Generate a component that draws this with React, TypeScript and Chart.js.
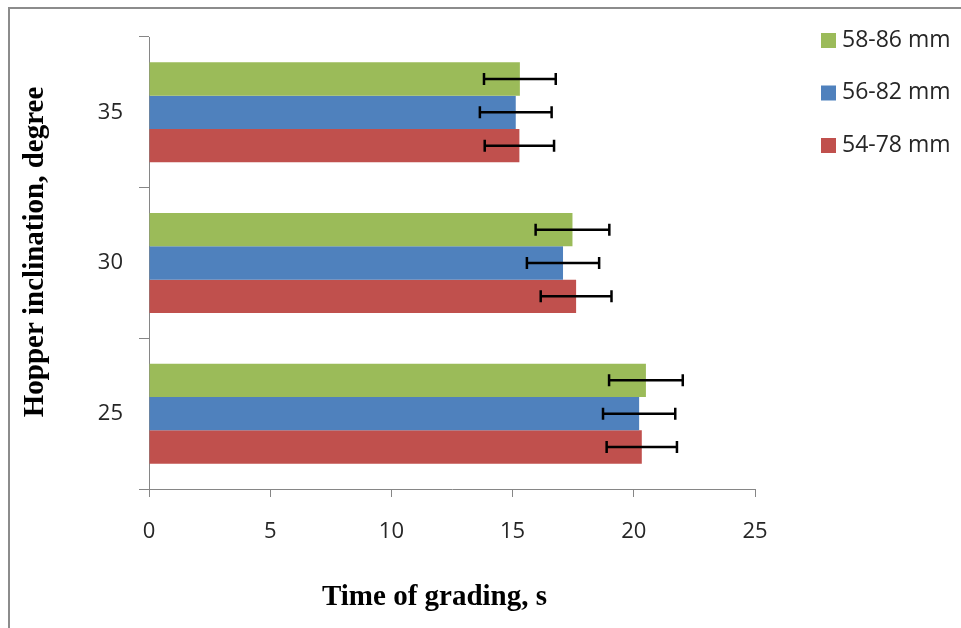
import React, { useEffect, useRef } from 'react';
import { Chart, registerables } from 'chart.js';

Chart.register(...registerables);

// Categories listed top-to-bottom as drawn
const categories = ['35', '30', '25'];
const seriesNames = ['58-86 mm', '56-82 mm', '54-78 mm'];
const values58 = [15.3, 17.47, 20.5];
const values56 = [15.13, 17.08, 20.22];
const values54 = [15.28, 17.62, 20.33];
const err58 = [1.48, 1.52, 1.52];
const err56 = [1.48, 1.49, 1.49];
const err54 = [1.43, 1.46, 1.45];
const xTicks = [0, 5, 10, 15, 20, 25];
const colors = ['#9BBB59', '#4F81BD', '#C0504D'];
const xTitle = 'Time of grading, s';
const yTitle = 'Hopper inclination, degree';

const W = 961;
const H = 628;
const AXIS = '#868686';
const TEXT = '#262626';
const SANS = '"Open Sans", "Noto Sans", sans-serif';
const SERIF = '"Liberation Serif", "Times New Roman", serif';

const framePlugin = {
  id: 'frame',
  beforeDraw(chart: any) {
    const ctx = chart.ctx;
    ctx.save();
    ctx.fillStyle = '#ffffff';
    ctx.fillRect(0, 0, W, H);
    ctx.strokeStyle = '#8c8c8c';
    ctx.lineWidth = 2;
    ctx.beginPath();
    ctx.moveTo(8, 8);
    ctx.lineTo(W, 8);
    ctx.moveTo(9, 7);
    ctx.lineTo(9, H);
    ctx.stroke();
    ctx.restore();
  },
};

const errorBarPlugin = {
  id: 'errorBars',
  afterDatasetsDraw(chart: any) {
    const ctx = chart.ctx;
    const xs = chart.scales.x;
    ctx.save();
    ctx.strokeStyle = '#000000';
    ctx.lineWidth = 2.5;
    chart.data.datasets.forEach((ds: any, i: number) => {
      const meta = chart.getDatasetMeta(i);
      meta.data.forEach((bar: any, j: number) => {
        const v = ds.data[j];
        const e = ds.errors[j];
        const y = bar.y;
        const x1 = xs.getPixelForValue(v - e);
        const x2 = xs.getPixelForValue(v + e);
        ctx.beginPath();
        ctx.moveTo(x1, y);
        ctx.lineTo(x2, y);
        ctx.moveTo(x1, y - 6);
        ctx.lineTo(x1, y + 6);
        ctx.moveTo(x2, y - 6);
        ctx.lineTo(x2, y + 6);
        ctx.stroke();
      });
    });
    ctx.restore();
  },
};

const legendTitlePlugin = {
  id: 'legendTitles',
  afterDraw(chart: any) {
    const ctx = chart.ctx;
    ctx.save();
    // legend
    chart.data.datasets.forEach((ds: any, i: number) => {
      const ty = 40 + i * 52.5;
      ctx.fillStyle = ds.backgroundColor;
      ctx.fillRect(821, ty - 7, 15, 15);
      ctx.fillStyle = TEXT;
      ctx.font = `23px ${SANS}`;
      ctx.textBaseline = 'middle';
      ctx.textAlign = 'left';
      ctx.fillText(ds.label, 842, ty);
    });
    // titles
    ctx.fillStyle = '#000000';
    ctx.font = `bold 29px ${SERIF}`;
    ctx.textAlign = 'center';
    ctx.textBaseline = 'middle';
    ctx.fillText(xTitle, 434.5, 598);
    ctx.translate(36, 252);
    ctx.rotate(-Math.PI / 2);
    ctx.fillText(yTitle, 0, 0);
    ctx.restore();
  },
};

export default function App() {
  const ref = useRef<HTMLCanvasElement | null>(null);

  useEffect(() => {
    if (!ref.current) return;
    const seriesValues = [values58, values56, values54];
    const seriesErrors = [err58, err56, err54];
    const chart = new Chart(ref.current, {
      type: 'bar',
      data: {
        labels: categories,
        datasets: seriesNames.map((name, i) => ({
          label: name,
          data: seriesValues[i],
          errors: seriesErrors[i],
          backgroundColor: colors[i],
          borderWidth: 0,
          barPercentage: 1.0,
          categoryPercentage: 0.664,
        })) as any,
      },
      options: {
        indexAxis: 'y',
        animation: false,
        responsive: false,
        devicePixelRatio: 1,
        layout: { padding: { left: 0, top: 37, right: 206, bottom: 0 } },
        plugins: {
          legend: { display: false },
          tooltip: { enabled: false },
          title: { display: false },
        },
        scales: {
          x: {
            type: 'linear',
            position: 'bottom',
            min: xTicks[0],
            max: xTicks[xTicks.length - 1],
            afterBuildTicks: (s: any) => {
              s.ticks = xTicks.map((v) => ({ value: v }));
            },
            afterFit: (s: any) => {
              s.height = 139;
            },
            grid: { drawOnChartArea: false, drawTicks: true, tickLength: 8, color: AXIS, lineWidth: 1 },
            border: { color: AXIS, width: 1 },
            ticks: { padding: 22, color: TEXT, font: { family: SANS, size: 22 } },
          },
          y: {
            type: 'category',
            position: 'left',
            offset: true,
            afterFit: (s: any) => {
              s.width = 149;
            },
            grid: { offset: true, drawOnChartArea: false, drawTicks: true, tickLength: 10, color: AXIS, lineWidth: 1 },
            border: { color: AXIS, width: 1 },
            ticks: { padding: 16, color: TEXT, font: { family: SANS, size: 22 } },
          },
        },
      } as any,
      plugins: [framePlugin, errorBarPlugin, legendTitlePlugin],
    });
    return () => chart.destroy();
  }, []);

  return (
    <div style={{ position: 'absolute', left: 0, top: 0, width: W, height: H }}>
      <canvas ref={ref} width={W} height={H} style={{ display: 'block', width: W, height: H }} />
    </div>
  );
}
